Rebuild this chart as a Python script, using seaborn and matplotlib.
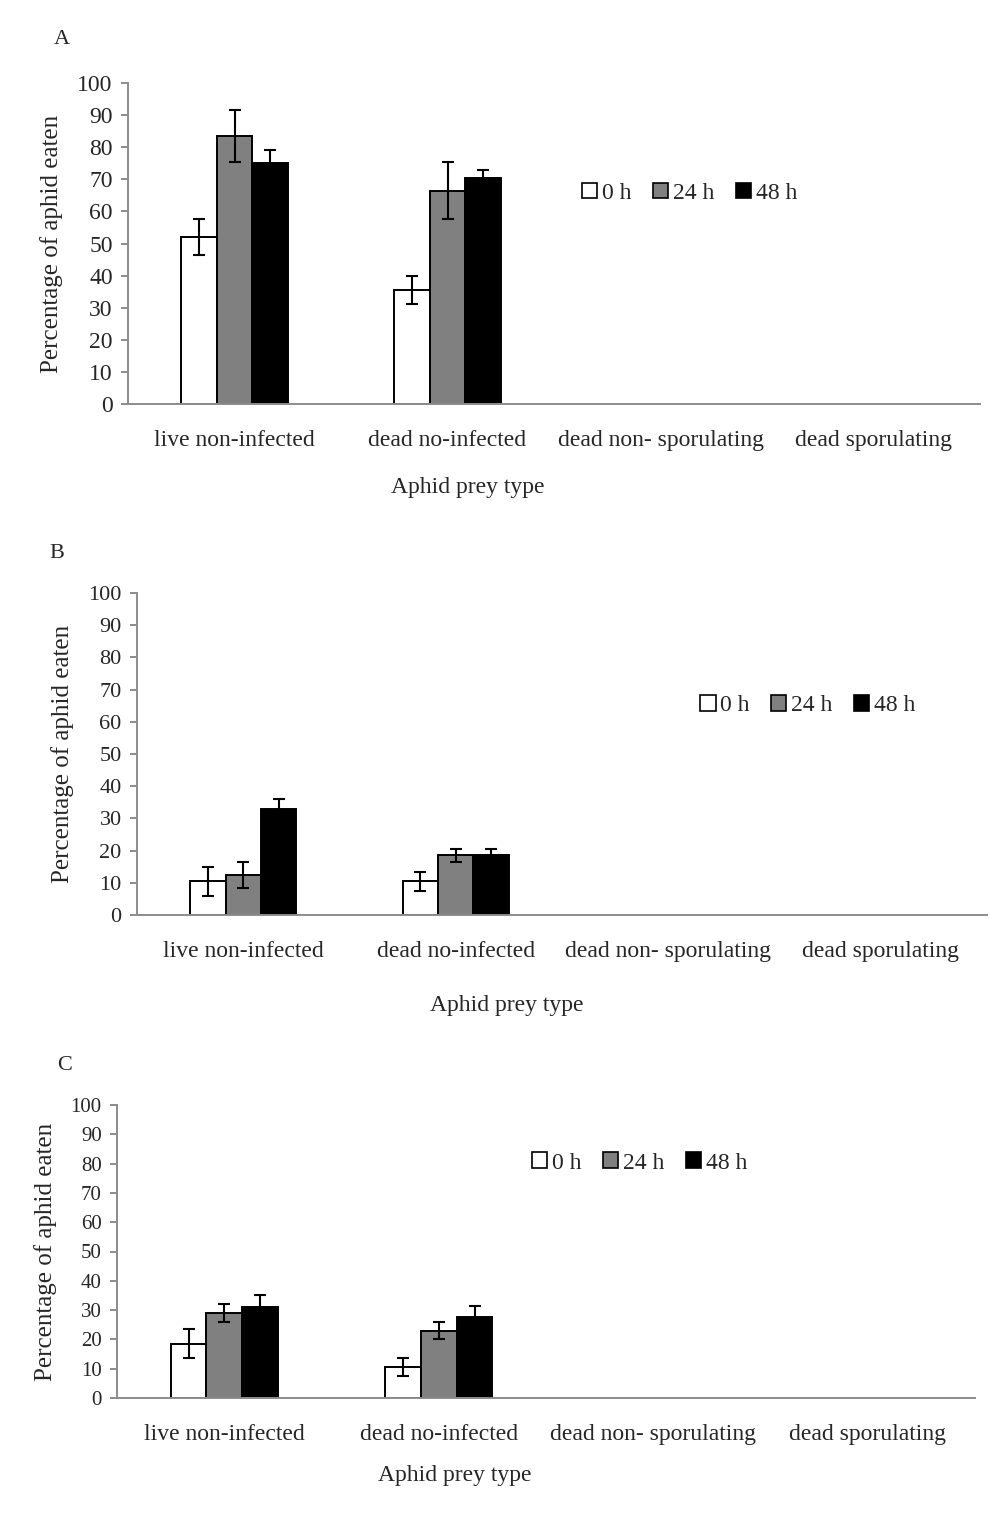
import numpy as np
import pandas as pd
import matplotlib
matplotlib.use("Agg")
import matplotlib.pyplot as plt
import seaborn as sns
from matplotlib.patches import Patch

# ---------------- data ----------------
categories = ["live non-infected", "dead no-infected", "dead non- sporulating", "dead sporulating"]
times = ["0 h", "24 h", "48 h"]

# panel A (values for first two prey types; others not tested)
a_0h = [52.0, 35.5]
a_24h = [83.5, 66.5]
a_48h = [75.0, 70.5]
a_err_0h = [5.5, 4.5]
a_err_24h = [8.0, 9.0]
a_err_48h = [4.0, 2.5]

# panel B
b_0h = [10.5, 10.5]
b_24h = [12.5, 18.5]
b_48h = [33.0, 18.5]
b_err_0h = [4.5, 3.0]
b_err_24h = [4.0, 2.0]
b_err_48h = [3.0, 2.0]

# panel C
c_0h = [18.5, 10.5]
c_24h = [29.0, 23.0]
c_48h = [31.0, 27.5]
c_err_0h = [5.0, 3.0]
c_err_24h = [3.0, 3.0]
c_err_48h = [4.0, 4.0]

yticks = list(range(0, 101, 10))
palette = ["#ffffff", "#808080", "#000000"]

# ---------------- style ----------------
sns.set_style("white")
plt.rcParams["font.family"] = ["Liberation Serif", "DejaVu Serif"]

SPINE = "#8c8c8c"


def make_df(v0, v24, v48, e0, e24, e48):
    rows = []
    for t, vals, errs in zip(times, [v0, v24, v48], [e0, e24, e48]):
        for cat, v, e in zip(categories, vals, errs):
            rows.append({"prey": cat, "time": t, "value": v, "err": e})
    return pd.DataFrame(rows)


def draw(ax, df, ytick_fs, legend_xy, xlabel_xy, label_fs=17):
    sns.barplot(data=df, x="prey", y="value", hue="time", order=categories,
                hue_order=times, palette=palette, edgecolor="black",
                linewidth=1.4, width=0.5, errorbar=None, legend=False, ax=ax,
                saturation=1)
    # error bars at the bar tops
    for cont, t in zip(ax.containers, times):
        sub = df[df["time"] == t].set_index("prey")
        xs, ys, es = [], [], []
        for bar, cat in zip(cont.patches, sub.index):
            xs.append(bar.get_x() + bar.get_width() / 2)
            ys.append(bar.get_height())
            es.append(sub.loc[cat, "err"])
        ax.errorbar(xs, ys, yerr=es, fmt="none", ecolor="black",
                    elinewidth=1.5, capsize=4.5, capthick=1.5, zorder=5)
    ax.set_xlim(-0.5, 3.5)
    ax.set_ylim(0, 100)
    ax.set_yticks(yticks)
    ax.set_yticklabels([str(v) for v in yticks], fontsize=ytick_fs)
    ax.set_xticks(range(len(categories)))
    ax.set_xticklabels(categories, fontsize=label_fs)
    ax.set_xticks(np.arange(-0.5, 4.0, 1.0), minor=True)
    ax.tick_params(axis="x", which="major", length=0, pad=19)
    ax.tick_params(axis="x", which="minor", length=6, width=1.4, color=SPINE, direction="out")
    ax.tick_params(axis="y", which="major", length=5, width=1.4, color=SPINE,
                   direction="out", pad=6, left=True)
    for s in ["top", "right"]:
        ax.spines[s].set_visible(False)
    for s in ["left", "bottom"]:
        ax.spines[s].set_color(SPINE)
        ax.spines[s].set_linewidth(1.4)
    ax.set_xlabel("Aphid prey type", fontsize=label_fs)
    ax.xaxis.set_label_coords(*xlabel_xy)
    ax.set_ylabel("Percentage of aphid eaten", fontsize=18, labelpad=10)
    handles = [Patch(facecolor=c, edgecolor="black", linewidth=1.2) for c in palette]
    ax.legend(handles, times, loc="center", bbox_to_anchor=legend_xy, ncol=3,
              frameon=False, fontsize=17, handlelength=0.65, handleheight=0.65,
              handletextpad=0.2, columnspacing=0.9)


W, H = 990, 1528
fig = plt.figure(figsize=(W / 100, H / 100), dpi=100)

axA = fig.add_axes([128 / W, 1 - 404 / H, 852 / W, 321 / H])
axB = fig.add_axes([137 / W, 1 - 915 / H, 850 / W, 322 / H])
axC = fig.add_axes([117 / W, 1 - 1398 / H, 858 / W, 293 / H])

NA = [np.nan, np.nan]
dfA = make_df(a_0h + NA, a_24h + NA, a_48h + NA, a_err_0h + NA, a_err_24h + NA, a_err_48h + NA).dropna()
dfB = make_df(b_0h + NA, b_24h + NA, b_48h + NA, b_err_0h + NA, b_err_24h + NA, b_err_48h + NA).dropna()
dfC = make_df(c_0h + NA, c_24h + NA, c_48h + NA, c_err_0h + NA, c_err_24h + NA, c_err_48h + NA).dropna()

# x-label centres (axes fraction), placed as in the original figure
draw(axA, dfA, 17, (0.659, 0.657), ((468 - 128) / 852, -(488 - 404) / 321))
draw(axB, dfB, 16, (0.789, 0.651), ((507 - 137) / 850, -(1005 - 915) / 322))
draw(axC, dfC, 15, (0.609, 0.802), ((455 - 117) / 858, -(1475 - 1398) / 293))

for lab, ax in zip(["A", "B", "C"], [axA, axB, axC]):
    ax.xaxis.label.set_va("center")

fig.text(62 / W, 1 - 40 / H, "A", fontsize=16, ha="center", va="center")
fig.text(57 / W, 1 - 553 / H, "B", fontsize=16, ha="center", va="center")
fig.text(65 / W, 1 - 1065 / H, "C", fontsize=16, ha="center", va="center")

fig.savefig("out.png", dpi=100, facecolor="white")
